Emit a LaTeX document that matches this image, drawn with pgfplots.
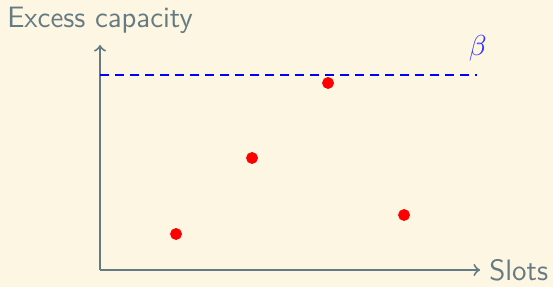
\documentclass[border=0pt]{standalone}
\usepackage{pgfplots}
\pgfplotsset{compat=1.18}
\usetikzlibrary{backgrounds}
\definecolor{bgc}{HTML}{FDF6E3}
\definecolor{axc}{HTML}{657B83}
\begin{document}
\sffamily
\begin{tikzpicture}
\begin{axis}[
  x=28.88pt, y=0.38pt,
  xmin=0, xmax=5, ymin=0, ymax=225,
  axis lines=left,
  axis line style={axc, line width=0.75pt, ->},
  xtick=\empty, ytick=\empty,
  clip=false,
]
\addplot[blue, line width=0.8pt, dash pattern=on 3.4pt off 2.3pt] coordinates {(0,195) (4.96,195)};
\addplot[only marks, mark=*, mark size=2.05pt, color=red] coordinates {(1,36) (2,112) (3,187) (4,55)};
\node[text=blue!80!white, font=\fontsize{11.2}{13}\selectfont] at (axis cs:4.97,222) {$\beta$};
\node[text=axc, font=\fontsize{11.2}{13}\selectfont\sffamily] at (axis cs:0,250) {Excess capacity};
\node[text=axc, font=\fontsize{11.2}{13}\selectfont\sffamily, anchor=west] at (axis cs:5.0,0) {Slots};
\coordinate (bl) at (axis cs:-1.316,-17);
\coordinate (tr) at (axis cs:5.96,270);
\end{axis}
\pgfresetboundingbox
\path[use as bounding box] (bl) rectangle (tr);
\begin{scope}[on background layer]
\fill[bgc] (bl) rectangle (tr);
\end{scope}
\end{tikzpicture}
\end{document}
